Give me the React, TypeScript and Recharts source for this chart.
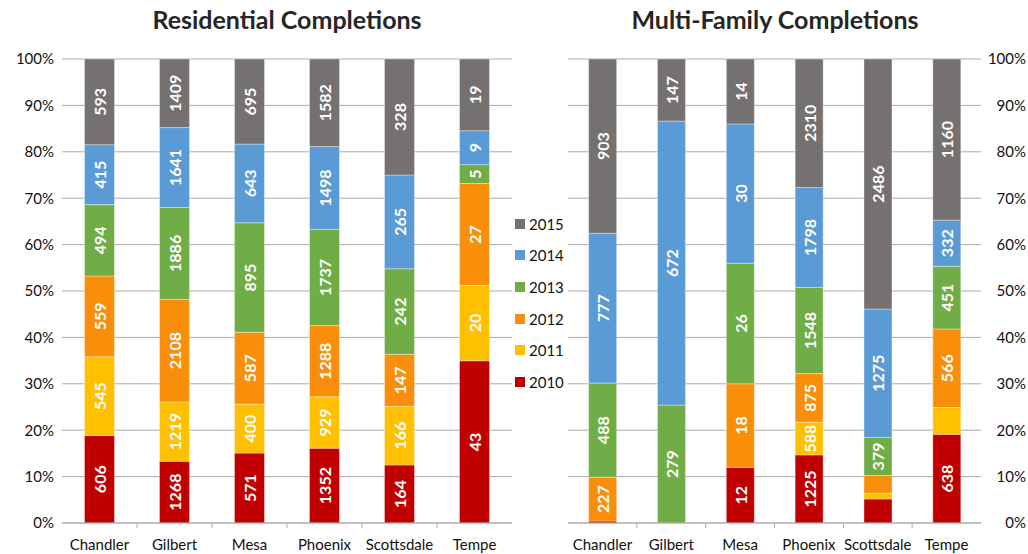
import React from 'react';
import { BarChart, Bar, XAxis, YAxis, CartesianGrid, LabelList } from 'recharts';

const cities = ['Chandler', 'Gilbert', 'Mesa', 'Phoenix', 'Scottsdale', 'Tempe'];
const years = ['2010', '2011', '2012', '2013', '2014', '2015'];
const yearColors = ['#C00000', '#FFC000', '#F98E0B', '#70AD47', '#5B9BD5', '#767171'];
const yTicks = [0, 0.1, 0.2, 0.3, 0.4, 0.5, 0.6, 0.7, 0.8, 0.9, 1];

// Residential completions by year (values per city)
const res2010 = [606, 1268, 571, 1352, 164, 43];
const res2011 = [545, 1219, 400, 929, 166, 20];
const res2012 = [559, 2108, 587, 1288, 147, 27];
const res2013 = [494, 1886, 895, 1737, 242, 5];
const res2014 = [415, 1641, 643, 1498, 265, 9];
const res2015 = [593, 1409, 695, 1582, 328, 19];

// Multi-family completions by year (values per city)
const mf2010 = [10, 0, 12, 1225, 239, 638];
const mf2011 = [0, 0, 0, 588, 57, 193];
const mf2012 = [227, 0, 18, 875, 176, 566];
const mf2013 = [488, 279, 26, 1548, 379, 451];
const mf2014 = [777, 672, 30, 1798, 1275, 332];
const mf2015 = [903, 147, 14, 2310, 2486, 1160];

const buildRows = (series: number[][]) =>
  cities.map((city, i) => {
    const row: Record<string, any> = { city };
    years.forEach((y, j) => {
      row['y' + y] = series[j][i];
    });
    return row;
  });

const resData = buildRows([res2010, res2011, res2012, res2013, res2014, res2015]);
const mfData = buildRows([mf2010, mf2011, mf2012, mf2013, mf2014, mf2015]);

const FONT = 'Lato, "Open Sans", sans-serif';
const GRID = '#ABABAB';
const H = 554;
const TOP = 59;
const XAXIS_H = 31;

const BarLabel = (props: any) => {
  const x = Number(props.x);
  const y = Number(props.y);
  const w = Number(props.width);
  const h = Number(props.height);
  const v = props.value;
  if (v === undefined || v === null || !v) return null;
  const txt = String(v);
  if (txt.length * 9 + 4 > Math.abs(h)) return null;
  const cx = x + w / 2;
  const cy = y + h / 2;
  return (
    <text
      x={cx}
      y={cy}
      transform={`rotate(-90 ${cx} ${cy})`}
      textAnchor="middle"
      dominantBaseline="central"
      fill="#ffffff"
      fontWeight={700}
      fontSize={16}
      fontFamily={FONT}
    >
      {txt}
    </text>
  );
};

const makeXTick = (band: number) => (props: any) => {
  const { x, y, payload, index } = props;
  return (
    <g>
      {index > 0 && (
        <line x1={x - band / 2} x2={x - band / 2} y1={y} y2={y + 5} stroke={GRID} strokeWidth={1} />
      )}
      <text x={x} y={y + 27} textAnchor="middle" fontSize={15} fill="#111" fontFamily={FONT}>
        {payload.value}
      </text>
    </g>
  );
};

const RightYTick = (props: any) => {
  const { x, y, payload } = props;
  return (
    <text x={x + 45} y={y} dy="0.355em" textAnchor="end" fontSize={15} fill="#111" fontFamily={FONT}>
      {Math.round(payload.value * 100) + '%'}
    </text>
  );
};

const pct = (v: number) => Math.round(v * 100) + '%';

const renderBars = () =>
  years.map((yr, i) => (
    <Bar
      key={yr}
      dataKey={'y' + yr}
      stackId="s"
      fill={yearColors[i]}
      stroke="#ffffff"
      strokeOpacity={0.35}
      strokeWidth={1}
      isAnimationActive={false}
    >
      <LabelList dataKey={'y' + yr} content={BarLabel} />
    </Bar>
  ));

// Left chart geometry
const L_W = 520;
const L_YW = 62;
const L_MR = 8;
const L_BAND = (L_W - L_YW - L_MR) / cities.length;

// Right chart geometry
const R_LEFT = 560;
const R_W = 468;
const R_ML = 8;
const R_YW = 47;
const R_BAND = (R_W - R_ML - R_YW) / cities.length;

export default function App() {
  return (
    <div
      style={{
        position: 'absolute',
        left: 0,
        top: 0,
        width: 1028,
        height: H,
        overflow: 'hidden',
        background: '#ffffff',
        fontFamily: FONT,
      }}
    >
      <svg width={1028} height={50} style={{ position: 'absolute', left: 0, top: 0 }}>
        <text x={287} y={29} textAnchor="middle" fontSize={25} fontWeight={700} fill="#262626" fontFamily={FONT}>
          Residential Completions
        </text>
        <text x={775} y={29} textAnchor="middle" fontSize={25} fontWeight={700} fill="#262626" fontFamily={FONT}>
          Multi-Family Completions
        </text>
      </svg>

      <div style={{ position: 'absolute', left: 0, top: 0 }}>
        <BarChart
          width={L_W}
          height={H}
          data={resData}
          stackOffset="expand"
          barCategoryGap="30%"
          margin={{ top: TOP, right: L_MR, bottom: 0, left: 0 }}
        >
          <CartesianGrid vertical={false} stroke={GRID} />
          <XAxis
            dataKey="city"
            height={XAXIS_H}
            axisLine={{ stroke: GRID }}
            tickLine={false}
            tickSize={0}
            tickMargin={0}
            interval={0}
            tick={makeXTick(L_BAND)}
          />
          <YAxis
            width={L_YW}
            domain={[0, 1]}
            ticks={yTicks}
            tickFormatter={pct}
            axisLine={false}
            tickLine={false}
            tickSize={0}
            tickMargin={8}
            tick={{ fontSize: 15, fill: '#111', fontFamily: FONT }}
          />
          {renderBars()}
        </BarChart>
      </div>

      <div style={{ position: 'absolute', left: R_LEFT, top: 0 }}>
        <BarChart
          width={R_W}
          height={H}
          data={mfData}
          stackOffset="expand"
          barCategoryGap="30%"
          margin={{ top: TOP, right: 0, bottom: 0, left: R_ML }}
        >
          <CartesianGrid vertical={false} stroke={GRID} />
          <XAxis
            dataKey="city"
            height={XAXIS_H}
            axisLine={{ stroke: GRID }}
            tickLine={false}
            tickSize={0}
            tickMargin={0}
            interval={0}
            tick={makeXTick(R_BAND)}
          />
          <YAxis
            orientation="right"
            width={R_YW}
            domain={[0, 1]}
            ticks={yTicks}
            axisLine={false}
            tickLine={false}
            tickSize={0}
            tickMargin={0}
            tick={RightYTick}
          />
          {renderBars()}
        </BarChart>
      </div>

      <div style={{ position: 'absolute', left: 515, top: 208, display: 'flex', flexDirection: 'column' }}>
        {years
          .map((y, i) => ({ y, c: yearColors[i] }))
          .reverse()
          .map(({ y, c }) => (
            <div key={y} style={{ display: 'flex', alignItems: 'center', height: 31.6 }}>
              <div style={{ width: 10, height: 10, background: c, marginRight: 4 }} />
              <span style={{ fontSize: 15, color: '#111', lineHeight: '16px' }}>{y}</span>
            </div>
          ))}
      </div>
    </div>
  );
}
